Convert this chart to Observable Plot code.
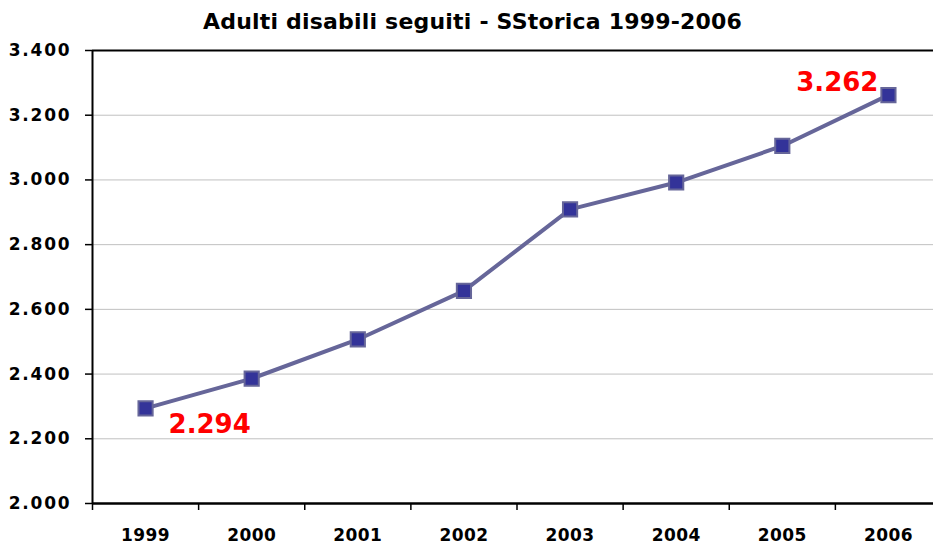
<!DOCTYPE html>
<html><head><meta charset="utf-8">
<script src="https://cdn.jsdelivr.net/npm/d3@7"></script>
<script src="https://cdn.jsdelivr.net/npm/@observablehq/plot@0.6"></script>
<style>
body{margin:0;background:#fff;overflow:hidden;}
#title{width:933px;height:42px;line-height:44px;text-align:center;padding-left:12px;box-sizing:border-box;font-family:"DejaVu Sans",sans-serif;font-weight:bold;font-size:22px;letter-spacing:0.2px;color:#000;}
</style></head>
<body>
<div id="title">Adulti disabili seguiti - SStorica 1999-2006</div>
<div id="chart"></div>
<script>
const years = [1999, 2000, 2001, 2002, 2003, 2004, 2005, 2006];
const values = [2294, 2386, 2507, 2657, 2909, 2992, 3105, 3262];
const yTicks = [2000, 2200, 2400, 2600, 2800, 3000, 3200, 3400];
const labelledYears = [1999, 2006];

const data = years.map((y, i) => ({year: y, value: values[i]}));
const itFmt = d3.formatLocale({decimal: ",", thousands: ".", grouping: [3], currency: ["", "€"]}).format(",");
const bandEdges = years.map(y => y - 0.5).concat([years[years.length - 1] + 0.5]);
const first = data.filter(d => d.year === labelledYears[0]);
const last = data.filter(d => d.year === labelledYears[1]);
const axisFont = {fontFamily: "DejaVu Sans", fontWeight: "bold"};

const chart = Plot.plot({
  width: 933,
  height: 502,
  marginTop: 8,
  marginBottom: 41,
  marginLeft: 92,
  marginRight: 0,
  x: {type: "linear", domain: [bandEdges[0], bandEdges[bandEdges.length - 1]], range: [92, 941], label: null, axis: null},
  y: {domain: [2000, 3400], label: null, axis: null},
  style: {fontFamily: "DejaVu Sans", color: "#000", overflow: "visible"},
  marks: [
    Plot.gridY(yTicks.slice(1, -1), {stroke: "#c0c0c0", strokeOpacity: 1, strokeWidth: 1}),
    Plot.ruleY([yTicks[yTicks.length - 1]], {stroke: "#000", strokeWidth: 2}),
    Plot.axisY(yTicks, {tickSize: 7, tickPadding: 14, label: null, tickFormat: itFmt, stroke: "#000", strokeWidth: 1.5, ...axisFont, fontSize: 17}),
    Plot.axisX(bandEdges, {tickSize: 7, label: null, tickFormat: () => "", stroke: "#000", strokeWidth: 1.5}),
    Plot.axisX(years, {tickSize: 0, tickPadding: 25, label: null, tickFormat: d => String(d), ...axisFont, fontSize: 17}),
    Plot.ruleY([2000], {stroke: "#000", strokeWidth: 2.5}),
    Plot.ruleX([bandEdges[0]], {stroke: "#000", strokeWidth: 2}),
    Plot.line(data, {x: "year", y: "value", stroke: "#666699", strokeWidth: 4}),
    Plot.dot(data, {x: "year", y: "value", symbol: "square", r: 8, fill: "#333399", stroke: "#666699", strokeWidth: 2}),
    Plot.text(first, {x: "year", y: "value", text: d => itFmt(d.value), dx: 23, dy: 16, textAnchor: "start", fill: "#ff0000", fontSize: 26, fontWeight: "bold", fontFamily: "DejaVu Sans"}),
    Plot.text(last, {x: "year", y: "value", text: d => itFmt(d.value), dx: -10, dy: -12, textAnchor: "end", fill: "#ff0000", fontSize: 26, fontWeight: "bold", fontFamily: "DejaVu Sans"})
  ]
});
const yLabelSet = new Set(yTicks.map(itFmt));
const xLabelSet = new Set(years.map(String));
chart.querySelectorAll("text").forEach(t => {
  const s = t.textContent.trim();
  if (t.getAttribute("fill") === "#ff0000") return;
  if (yLabelSet.has(s)) { t.style.fontSize = "17px"; t.style.fontWeight = "bold"; t.style.letterSpacing = "1.8px"; }
  else if (xLabelSet.has(s)) { t.style.fontSize = "17px"; t.style.fontWeight = "bold"; t.style.letterSpacing = "0.4px"; }
});
document.getElementById("chart").appendChild(chart);
</script>
</body></html>
